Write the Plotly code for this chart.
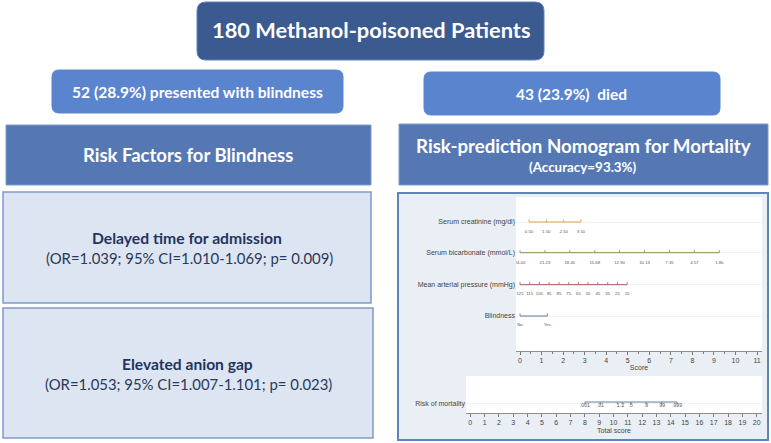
import plotly.graph_objects as go

W, H = 771, 443

# ---- data ----
creatinine_labels = ["0.50", "1.50", "2.50", "3.50"]
creatinine_scores = [0.42, 1.22, 2.03, 2.83]
bicarbonate_labels = ["24.00", "21.23", "18.45", "15.68", "12.90", "10.13", "7.35", "4.57", "1.80"]
bicarbonate_scores = [0.0, 1.16, 2.31, 3.47, 4.62, 5.78, 6.94, 8.09, 9.25]
pressure_labels = ["125", "115", "105", "95", "85", "75", "65", "55", "45", "35", "25", "15"]
pressure_scores = [0.0, 0.45, 0.90, 1.35, 1.81, 2.26, 2.71, 3.16, 3.61, 4.07, 4.52, 4.97]
blindness_labels = ["No", "Yes"]
blindness_scores = [0.0, 1.27]
risk_labels = [".001", ".01", ".1", ".2", ".5", ".9", ".99", ".999"]
risk_scores = [8.0, 9.08, 10.27, 10.6, 11.2, 12.27, 13.36, 14.44]
row_names = ["Serum creatinine (mg/dl)", "Serum bicarbonate (mmol/L)",
             "Mean arterial pressure (mmHg)", "Blindness"]
score_ticks = list(range(0, 12))
total_ticks = list(range(0, 21))

# ---- layout constants (pixels) ----
FONT = "Lato"
AX = "Liberation Sans"
TOP_PANEL = (516, 762, 197, 351)
LOW_PANEL = (466, 762, 376, 413)
ROW_Y = [25, 55.7, 87.7, 119]
LABEL_GAP = [10, 10.3, 9.5, 8.7]
ROW_COLORS = ["#d6a24a", "#8c8a55", "#a65a5e", "#5a7699"]


def px(x):
    return x / W


def py(y):
    return 1 - y / H


def rect(x0, y0, x1, y1, fill, line=None, lw=1.5):
    return dict(type="rect", xref="paper", yref="paper", layer="below",
                x0=px(x0), x1=px(x1), y0=py(y0), y1=py(y1), fillcolor=fill,
                line=dict(color=line or fill, width=lw if line else 0))


def rounded(x0, y0, x1, y1, r, fill, line=None):
    a0, a1, b0, b1 = px(x0), px(x1), py(y0), py(y1)
    rx, ry = r / W, r / H
    path = (f"M{a0 + rx},{b0} L{a1 - rx},{b0} Q{a1},{b0} {a1},{b0 - ry} "
            f"L{a1},{b1 + ry} Q{a1},{b1} {a1 - rx},{b1} L{a0 + rx},{b1} "
            f"Q{a0},{b1} {a0},{b1 + ry} L{a0},{b0 - ry} Q{a0},{b0} {a0 + rx},{b0} Z")
    return dict(type="path", xref="paper", yref="paper", layer="below", path=path,
                fillcolor=fill, line=dict(color=line or fill, width=1))


def note(x, y, text, size, color, bold=False):
    return dict(xref="paper", yref="paper", x=px(x), y=py(y), xanchor="center", yanchor="middle",
                showarrow=False, text=f"<b>{text}</b>" if bold else text,
                font=dict(family=FONT, size=size, color=color))


shapes = [
    rounded(197, 2, 544, 60, 9, "#3b5a90", "#5f82bd"),
    rounded(52, 70, 343, 113, 7, "#5a84cd"),
    rounded(424, 72, 720, 115, 7, "#5a84cd"),
    rect(6, 125, 371, 185, "#5578b4", "#7d9ccc", 1),
    rect(399, 124, 768, 185, "#5578b4", "#7d9ccc", 1),
    rect(3, 192, 371, 303, "#dde4f2", "#7f9bc8", 1.5),
    rect(3, 308, 373, 438, "#dde4f2", "#7f9bc8", 1.5),
    rect(398, 193, 768, 440, "#e9eff5", "#5f84bb", 2),
    rect(TOP_PANEL[0], TOP_PANEL[2], TOP_PANEL[1], TOP_PANEL[3], "white"),
    rect(LOW_PANEL[0], LOW_PANEL[2], LOW_PANEL[1], LOW_PANEL[3], "white"),
]

annotations = [
    note(371, 30, "180 Methanol-poisoned Patients", 21.8, "white", True),
    note(198, 92, "52 (28.9%) presented with blindness", 15.6, "white", True),
    note(571, 94, "43 (23.9%)  died", 15.5, "white", True),
    note(188, 155, "Risk Factors for Blindness", 18.5, "white", True),
    note(583, 146, "Risk-prediction Nomogram for Mortality", 18.7, "white", True),
    note(583, 167, "(Accuracy=93.3%)", 13.4, "white", True),
    note(187, 238, "Delayed time for admission", 15.7, "#1f3560", True),
    note(189, 258, "(OR=1.039; 95% CI=1.010-1.069; p= 0.009)", 14.9, "#2a3a58"),
    note(187, 364, "Elevated anion gap", 15.6, "#1f3560", True),
    note(188, 384, "(OR=1.053; 95% CI=1.007-1.101; p= 0.023)", 14.9, "#2a3a58"),
]

fig = go.Figure()

rows = [
    (creatinine_scores, creatinine_labels),
    (bicarbonate_scores, bicarbonate_labels),
    (pressure_scores, pressure_labels),
    (blindness_scores, blindness_labels),
]
for (scores, labels), y, gap, color in zip(rows, ROW_Y, LABEL_GAP, ROW_COLORS):
    fig.add_trace(go.Scatter(
        x=scores, y=[y] * len(scores), mode="lines", xaxis="x", yaxis="y",
        line=dict(color=color, width=1), showlegend=False, hoverinfo="skip",
        error_y=dict(type="data", symmetric=False, array=[0] * len(scores),
                     arrayminus=[2.7] * len(scores), color=color, thickness=0.8, width=0)))
    fig.add_trace(go.Scatter(
        x=scores, y=[y + gap] * len(scores), mode="text", text=labels, xaxis="x", yaxis="y",
        textfont=dict(family=AX, size=4.3, color="#555555"), showlegend=False, hoverinfo="skip"))

fig.add_trace(go.Scatter(
    x=risk_scores, y=[26] * len(risk_scores), mode="lines", xaxis="x2", yaxis="y2",
    line=dict(color="#607f95", width=1), showlegend=False, hoverinfo="skip",
    error_y=dict(type="data", symmetric=False, array=[2.5] * len(risk_scores),
                 arrayminus=[0] * len(risk_scores), color="#607f95", thickness=0.8, width=0)))
fig.add_trace(go.Scatter(
    x=risk_scores, y=[30] * len(risk_scores), mode="text", text=risk_labels, xaxis="x2", yaxis="y2",
    textfont=dict(family=AX, size=5, color="#555555"), showlegend=False, hoverinfo="skip"))

axis_common = dict(showline=True, linecolor="#8a8f94", linewidth=1, ticks="outside", ticklen=3,
                   tickcolor="#777777", tickwidth=0.8, showgrid=False, zeroline=False,
                   tickfont=dict(family=AX, size=7, color="#444444"),
                   title_font=dict(family=AX, size=7, color="#444444"))
y_common = dict(showline=False, ticks="", showgrid=True, gridcolor="#f0f2f4", gridwidth=1,
                zeroline=False, tickfont=dict(family=AX, size=7, color="#444444"))

fig.update_layout(
    width=W, height=H, margin=dict(l=0, r=0, t=0, b=0), autosize=False,
    paper_bgcolor="white", plot_bgcolor="rgba(0,0,0,0)", shapes=shapes, annotations=annotations,
    xaxis=dict(domain=[px(TOP_PANEL[0]), px(TOP_PANEL[1])], range=[-0.186, 11.23], anchor="y",
               tickmode="array", tickvals=score_ticks, title=dict(text="Score", standoff=0),
               minor=dict(tickmode="linear", tick0=0, dtick=0.5, ticks="outside", ticklen=2,
                          tickcolor="#777777", tickwidth=0.8),
               **axis_common),
    yaxis=dict(domain=[py(TOP_PANEL[3]), py(TOP_PANEL[2])], range=[154, 0], anchor="x",
               tickmode="array", tickvals=ROW_Y, ticktext=row_names, **y_common),
    xaxis2=dict(domain=[px(LOW_PANEL[0]), px(LOW_PANEL[1])], range=[-0.30, 20.37], anchor="y2",
                tickmode="array", tickvals=total_ticks, title=dict(text="Total score", standoff=2),
                **axis_common),
    yaxis2=dict(domain=[py(LOW_PANEL[3]), py(LOW_PANEL[2])], range=[37, 0], anchor="x2",
                tickmode="array", tickvals=[27.7], ticktext=["Risk of mortality"], **y_common),
)

fig.write_html("out.html", config={"displayModeBar": False},
               post_script="document.body.style.margin='0';document.body.style.overflow='hidden';")
